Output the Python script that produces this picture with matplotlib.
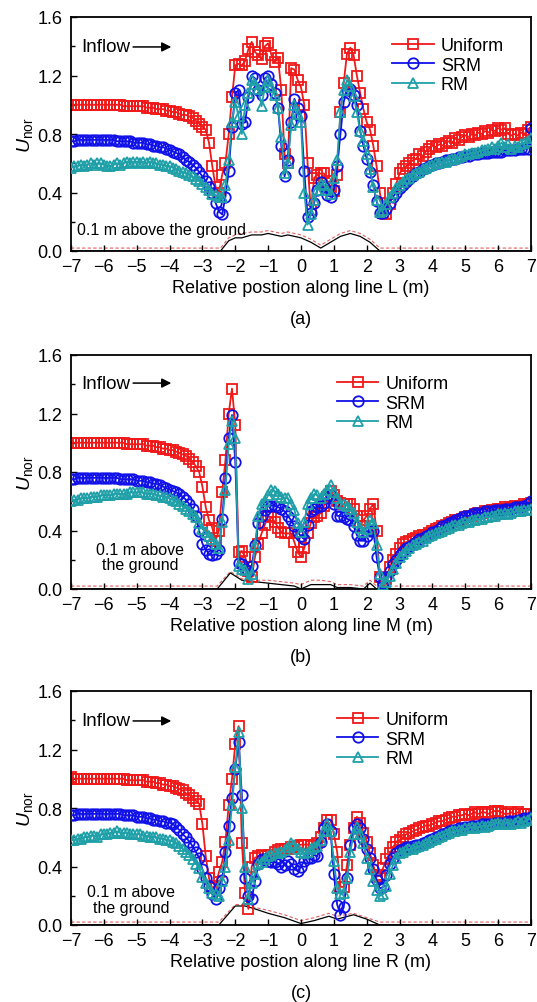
import numpy as np
import matplotlib
matplotlib.use("Agg")
import matplotlib.pyplot as plt
from matplotlib.ticker import MultipleLocator, FormatStrFormatter

plt.rcParams['font.family'] = ['Liberation Sans', 'DejaVu Sans']
plt.rcParams['mathtext.fontset'] = 'custom'
plt.rcParams['mathtext.rm'] = 'Liberation Sans'
plt.rcParams['mathtext.it'] = 'Liberation Sans:italic'

# positions along the line, 0.1 m spacing
x = np.linspace(-7, 7, 141)

# ---- panel (a), line L ----
uni_a = [1.00, 1.00, 1.00, 1.00, 1.00, 1.00, 1.00, 1.00, 1.00, 1.00,
         1.00, 1.00, 1.00, 1.00, 1.00, 1.00, 0.99, 0.99, 0.99, 0.99,
         0.99, 0.99, 0.99, 0.98, 0.98, 0.98, 0.97, 0.97, 0.97, 0.96,
         0.96, 0.95, 0.95, 0.94, 0.93, 0.93, 0.92, 0.91, 0.89, 0.87,
         0.85, 0.83, 0.74, 0.58, 0.44, 0.40, 0.52, 0.60, 0.80, 1.05,
         1.27, 1.28, 1.27, 1.30, 1.38, 1.43, 1.36, 1.34, 1.31, 1.40,
         1.42, 1.34, 1.29, 1.32, 1.10, 0.66, 0.60, 1.25, 1.24, 1.17,
         1.12, 1.00, 0.60, 0.28, 0.50, 0.52, 0.53, 0.53, 0.48, 0.44,
         0.41, 0.52, 0.95, 1.15, 1.35, 1.39, 1.34, 1.20, 1.08, 0.97,
         0.88, 0.83, 0.72, 0.58, 0.40, 0.26, 0.25, 0.32, 0.40, 0.46,
         0.53, 0.56, 0.58, 0.60, 0.62, 0.63, 0.66, 0.65, 0.68, 0.70,
         0.72, 0.71, 0.73, 0.72, 0.74, 0.75, 0.74, 0.77, 0.76, 0.78,
         0.79, 0.78, 0.80, 0.79, 0.81, 0.80, 0.82, 0.81, 0.83, 0.82,
         0.84, 0.83, 0.84, 0.80, 0.79, 0.80, 0.79, 0.81, 0.80, 0.83,
         0.85]
srm_a = [0.75, 0.75, 0.76, 0.76, 0.76, 0.76, 0.76, 0.76, 0.76, 0.76,
         0.76, 0.76, 0.76, 0.76, 0.75, 0.75, 0.75, 0.75, 0.75, 0.74,
         0.74, 0.74, 0.74, 0.73, 0.73, 0.72, 0.72, 0.71, 0.71, 0.70,
         0.69, 0.68, 0.67, 0.66, 0.64, 0.62, 0.61, 0.59, 0.57, 0.54,
         0.51, 0.48, 0.44, 0.40, 0.33, 0.27, 0.25, 0.37, 0.55, 0.85,
         1.08, 1.10, 0.87, 0.88, 1.05, 1.20, 1.18, 1.10, 1.07, 1.18,
         1.20, 1.14, 1.08, 0.98, 0.72, 0.51, 0.62, 0.88, 1.04, 0.98,
         0.92, 0.55, 0.23, 0.26, 0.33, 0.42, 0.47, 0.44, 0.38, 0.37,
         0.42, 0.58, 0.80, 1.02, 1.10, 1.11, 1.07, 1.00, 0.82, 0.72,
         0.63, 0.54, 0.45, 0.34, 0.26, 0.26, 0.29, 0.33, 0.37, 0.40,
         0.43, 0.45, 0.47, 0.49, 0.51, 0.53, 0.54, 0.56, 0.57, 0.58,
         0.59, 0.60, 0.60, 0.61, 0.62, 0.62, 0.63, 0.63, 0.64, 0.64,
         0.65, 0.65, 0.66, 0.66, 0.66, 0.67, 0.67, 0.67, 0.68, 0.68,
         0.68, 0.68, 0.69, 0.69, 0.69, 0.69, 0.70, 0.70, 0.70, 0.70,
         0.84]
rm_a = [0.57, 0.58, 0.58, 0.59, 0.58, 0.59, 0.60, 0.59, 0.60, 0.60,
        0.59, 0.58, 0.58, 0.59, 0.60, 0.59, 0.60, 0.61, 0.60, 0.61,
        0.61, 0.60, 0.61, 0.60, 0.61, 0.60, 0.60, 0.59, 0.59, 0.58,
        0.58, 0.57, 0.56, 0.55, 0.54, 0.53, 0.52, 0.51, 0.49, 0.48,
        0.46, 0.44, 0.42, 0.39, 0.38, 0.37, 0.37, 0.45, 0.62, 0.88,
        1.02, 0.92, 0.80, 1.00, 1.08, 1.17, 1.14, 1.11, 0.99, 1.12,
        1.17, 1.12, 1.07, 0.98, 0.78, 0.53, 0.60, 0.86, 1.00, 0.94,
        0.88, 0.40, 0.18, 0.25, 0.35, 0.42, 0.46, 0.45, 0.42, 0.39,
        0.50, 0.62, 0.95, 1.10, 1.17, 1.13, 1.06, 0.95, 0.82, 0.75,
        0.66, 0.56, 0.44, 0.35, 0.27, 0.28, 0.32, 0.37, 0.40, 0.43,
        0.45, 0.47, 0.49, 0.50, 0.52, 0.53, 0.54, 0.56, 0.57, 0.58,
        0.59, 0.60, 0.60, 0.61, 0.61, 0.62, 0.63, 0.63, 0.64, 0.65,
        0.66, 0.66, 0.67, 0.67, 0.68, 0.69, 0.69, 0.70, 0.71, 0.70,
        0.72, 0.74, 0.71, 0.73, 0.70, 0.72, 0.71, 0.73, 0.74, 0.75,
        0.77]
ground_x_a = [-7, -2.45, -2.2, -2.0, -1.8, -1.5, -1.2, -1.0, -0.8, -0.6, -0.4,
              -0.2, 0.0, 0.3, 0.6, 0.9, 1.2, 1.5, 1.8, 2.1, 2.4, 7]
ground_a = [0, 0, 0.07, 0.09, 0.09, 0.11, 0.11, 0.12, 0.11, 0.10, 0.11,
            0.10, 0.09, 0.06, 0.02, 0.06, 0.10, 0.12, 0.10, 0.06, 0.0, 0.0]
above_a = [0.02, 0.02, 0.09, 0.11, 0.12, 0.13, 0.13, 0.14, 0.13, 0.12, 0.13,
           0.12, 0.11, 0.08, 0.04, 0.08, 0.12, 0.14, 0.12, 0.08, 0.02, 0.02]

# ---- panel (b), line M ----
uni_b = [1.00, 1.00, 1.00, 1.00, 1.00, 1.00, 1.00, 1.00, 1.00, 1.00,
         1.00, 1.00, 1.00, 1.00, 1.00, 1.00, 1.00, 0.99, 0.99, 0.99,
         0.99, 0.99, 0.99, 0.98, 0.98, 0.98, 0.97, 0.97, 0.96, 0.96,
         0.95, 0.95, 0.94, 0.93, 0.92, 0.91, 0.89, 0.87, 0.84, 0.80,
         0.70, 0.56, 0.47, 0.42, 0.33, 0.40, 0.66, 0.88, 1.20, 1.37,
         1.12, 0.25, 0.26, 0.22, 0.12, 0.08, 0.22, 0.31, 0.38, 0.44,
         0.50, 0.49, 0.46, 0.42, 0.39, 0.38, 0.38, 0.38, 0.32, 0.25,
         0.22, 0.28, 0.38, 0.45, 0.49, 0.50, 0.52, 0.57, 0.63, 0.67,
         0.64, 0.60, 0.59, 0.58, 0.58, 0.58, 0.55, 0.50, 0.43, 0.47,
         0.50, 0.55, 0.58, 0.40, 0.08, 0.01, 0.07, 0.15, 0.20, 0.24,
         0.28, 0.31, 0.32, 0.33, 0.34, 0.35, 0.36, 0.37, 0.37, 0.38,
         0.40, 0.41, 0.42, 0.43, 0.44, 0.45, 0.46, 0.47, 0.47, 0.48,
         0.49, 0.50, 0.50, 0.51, 0.52, 0.52, 0.53, 0.53, 0.54, 0.54,
         0.55, 0.55, 0.56, 0.55, 0.56, 0.57, 0.56, 0.57, 0.58, 0.58,
         0.59]
srm_b = [0.75, 0.75, 0.76, 0.76, 0.76, 0.76, 0.76, 0.76, 0.76, 0.76,
         0.76, 0.76, 0.76, 0.76, 0.76, 0.75, 0.75, 0.75, 0.75, 0.75,
         0.74, 0.74, 0.74, 0.73, 0.73, 0.72, 0.72, 0.71, 0.70, 0.69,
         0.68, 0.67, 0.66, 0.65, 0.63, 0.61, 0.58, 0.55, 0.50, 0.40,
         0.31, 0.27, 0.24, 0.23, 0.24, 0.27, 0.48, 0.76, 1.03, 1.19,
         0.87, 0.18, 0.17, 0.14, 0.12, 0.16, 0.30, 0.45, 0.50, 0.54,
         0.57, 0.57, 0.57, 0.56, 0.55, 0.53, 0.50, 0.47, 0.43, 0.39,
         0.36, 0.34, 0.44, 0.53, 0.55, 0.56, 0.57, 0.59, 0.62, 0.64,
         0.58, 0.50, 0.50, 0.49, 0.48, 0.47, 0.43, 0.37, 0.33, 0.33,
         0.36, 0.40, 0.40, 0.22, 0.08, 0.04, 0.08, 0.12, 0.17, 0.20,
         0.23, 0.26, 0.28, 0.29, 0.31, 0.32, 0.34, 0.35, 0.36, 0.37,
         0.39, 0.40, 0.41, 0.43, 0.44, 0.45, 0.46, 0.47, 0.48, 0.49,
         0.50, 0.50, 0.51, 0.52, 0.52, 0.52, 0.53, 0.53, 0.53, 0.54,
         0.54, 0.54, 0.55, 0.55, 0.55, 0.56, 0.56, 0.56, 0.57, 0.58,
         0.60]
rm_b = [0.60, 0.61, 0.61, 0.62, 0.62, 0.62, 0.63, 0.63, 0.63, 0.64,
        0.64, 0.64, 0.64, 0.65, 0.65, 0.65, 0.65, 0.65, 0.66, 0.66,
        0.66, 0.66, 0.66, 0.65, 0.65, 0.65, 0.64, 0.64, 0.63, 0.63,
        0.62, 0.61, 0.60, 0.58, 0.57, 0.55, 0.53, 0.51, 0.49, 0.45,
        0.41, 0.39, 0.36, 0.34, 0.31, 0.28, 0.46, 0.68, 0.99, 1.15,
        1.03, 0.16, 0.14, 0.13, 0.07, 0.10, 0.30, 0.50, 0.58, 0.60,
        0.64, 0.68, 0.67, 0.65, 0.63, 0.62, 0.62, 0.58, 0.54, 0.45,
        0.39, 0.46, 0.58, 0.62, 0.65, 0.64, 0.62, 0.65, 0.68, 0.71,
        0.66, 0.62, 0.59, 0.58, 0.57, 0.55, 0.52, 0.46, 0.42, 0.39,
        0.41, 0.47, 0.45, 0.30, 0.10, 0.03, 0.05, 0.09, 0.14, 0.18,
        0.22, 0.24, 0.26, 0.28, 0.30, 0.31, 0.32, 0.33, 0.35, 0.36,
        0.37, 0.38, 0.39, 0.40, 0.41, 0.42, 0.43, 0.44, 0.44, 0.45,
        0.46, 0.46, 0.47, 0.47, 0.48, 0.48, 0.49, 0.49, 0.50, 0.50,
        0.51, 0.51, 0.52, 0.51, 0.52, 0.53, 0.53, 0.53, 0.54, 0.54,
        0.55]
ground_x_b = [-7, -2.55, -2.15, -1.8, -1.4, -1.0, -0.6, -0.2, 0.0, 0.3, 0.6,
              0.9, 1.1, 1.5, 1.9, 2.1, 2.3, 7]
ground_b = [0, 0, 0.11, 0.06, 0.05, 0.04, 0.03, 0.02, 0.0, 0.03, 0.03,
            0.03, 0.01, 0.01, 0.0, 0.04, 0.0, 0]
above_b = [0.02, 0.02, 0.12, 0.07, 0.06, 0.06, 0.05, 0.04, 0.03, 0.06, 0.06,
           0.05, 0.03, 0.03, 0.02, 0.06, 0.02, 0.02]

# ---- panel (c), line R ----
uni_c = [1.01, 1.00, 1.00, 1.00, 1.00, 1.00, 1.00, 1.00, 1.00, 1.00,
         1.00, 1.00, 1.00, 1.00, 1.00, 1.00, 1.00, 0.99, 0.99, 0.99,
         0.99, 0.99, 0.99, 0.98, 0.98, 0.98, 0.97, 0.97, 0.96, 0.96,
         0.95, 0.95, 0.94, 0.93, 0.92, 0.90, 0.89, 0.87, 0.85, 0.83,
         0.69, 0.47, 0.32, 0.25, 0.27, 0.36, 0.43, 0.57, 0.82, 1.00,
         1.24, 1.36, 0.56, 0.22, 0.11, 0.40, 0.46, 0.47, 0.48, 0.47,
         0.47, 0.48, 0.50, 0.51, 0.52, 0.52, 0.52, 0.53, 0.53, 0.54,
         0.55, 0.55, 0.55, 0.54, 0.55, 0.56, 0.60, 0.66, 0.72, 0.72,
         0.62, 0.50, 0.26, 0.26, 0.41, 0.55, 0.66, 0.74, 0.70, 0.63,
         0.57, 0.49, 0.41, 0.33, 0.34, 0.39, 0.45, 0.49, 0.53, 0.57,
         0.58, 0.60, 0.62, 0.63, 0.64, 0.65, 0.66, 0.67, 0.68, 0.68,
         0.69, 0.70, 0.71, 0.71, 0.72, 0.73, 0.74, 0.74, 0.75, 0.75,
         0.76, 0.75, 0.76, 0.77, 0.76, 0.77, 0.77, 0.76, 0.77, 0.78,
         0.78, 0.77, 0.76, 0.76, 0.77, 0.76, 0.77, 0.76, 0.76, 0.76,
         0.76]
srm_c = [0.75, 0.75, 0.76, 0.76, 0.76, 0.76, 0.76, 0.76, 0.76, 0.76,
         0.76, 0.76, 0.76, 0.76, 0.76, 0.76, 0.75, 0.75, 0.75, 0.75,
         0.74, 0.74, 0.74, 0.73, 0.73, 0.72, 0.72, 0.71, 0.71, 0.70,
         0.70, 0.69, 0.67, 0.65, 0.62, 0.60, 0.57, 0.54, 0.50, 0.46,
         0.38, 0.32, 0.27, 0.21, 0.18, 0.25, 0.31, 0.50, 0.68, 0.87,
         1.07, 1.25, 0.89, 0.32, 0.20, 0.18, 0.30, 0.42, 0.45, 0.45,
         0.44, 0.43, 0.43, 0.42, 0.40, 0.41, 0.44, 0.42, 0.38, 0.37,
         0.40, 0.44, 0.46, 0.46, 0.48, 0.47, 0.57, 0.66, 0.69, 0.64,
         0.35, 0.14, 0.07, 0.12, 0.32, 0.55, 0.66, 0.69, 0.66, 0.59,
         0.52, 0.46, 0.38, 0.31, 0.25, 0.26, 0.34, 0.42, 0.46, 0.49,
         0.51, 0.52, 0.53, 0.53, 0.54, 0.55, 0.55, 0.56, 0.57, 0.58,
         0.59, 0.60, 0.61, 0.62, 0.63, 0.64, 0.65, 0.65, 0.66, 0.66,
         0.67, 0.67, 0.68, 0.68, 0.68, 0.69, 0.69, 0.69, 0.69, 0.70,
         0.70, 0.70, 0.70, 0.71, 0.71, 0.71, 0.72, 0.72, 0.73, 0.73,
         0.74]
rm_c = [0.58, 0.58, 0.59, 0.59, 0.60, 0.60, 0.61, 0.61, 0.60, 0.62,
        0.62, 0.62, 0.63, 0.63, 0.64, 0.63, 0.63, 0.63, 0.62, 0.62,
        0.62, 0.62, 0.61, 0.61, 0.60, 0.60, 0.60, 0.59, 0.59, 0.58,
        0.58, 0.57, 0.56, 0.54, 0.52, 0.50, 0.48, 0.45, 0.42, 0.39,
        0.33, 0.29, 0.25, 0.22, 0.21, 0.20, 0.30, 0.40, 0.58, 0.82,
        1.08, 1.32, 0.80, 0.40, 0.18, 0.29, 0.35, 0.42, 0.43, 0.45,
        0.47, 0.48, 0.49, 0.49, 0.50, 0.51, 0.53, 0.56, 0.55, 0.52,
        0.50, 0.49, 0.50, 0.52, 0.53, 0.54, 0.58, 0.64, 0.69, 0.64,
        0.44, 0.25, 0.21, 0.22, 0.32, 0.50, 0.62, 0.67, 0.62, 0.56,
        0.46, 0.38, 0.30, 0.24, 0.20, 0.21, 0.27, 0.35, 0.41, 0.46,
        0.49, 0.50, 0.51, 0.52, 0.52, 0.53, 0.54, 0.55, 0.56, 0.57,
        0.58, 0.59, 0.60, 0.61, 0.62, 0.63, 0.64, 0.64, 0.65, 0.65,
        0.66, 0.66, 0.67, 0.66, 0.67, 0.68, 0.67, 0.68, 0.69, 0.69,
        0.70, 0.69, 0.70, 0.69, 0.69, 0.70, 0.71, 0.70, 0.71, 0.72,
        0.73]
ground_x_c = [-7, -2.5, -2.0, -1.7, -1.4, -1.0, -0.5, 0.0, 0.4, 0.85, 1.1,
              1.6, 2.0, 2.4, 7]
ground_c = [0, 0, 0.13, 0.13, 0.11, 0.08, 0.05, 0.01, 0.03, 0.06, 0.04,
            0.07, 0.04, 0.0, 0.0]
above_c = [0.02, 0.02, 0.14, 0.14, 0.12, 0.10, 0.07, 0.03, 0.05, 0.08, 0.06,
           0.08, 0.05, 0.02, 0.02]

line_names = ['L', 'M', 'R']
panel_tags = ['(a)', '(b)', '(c)']

RED = '#f01818'
BLUE = '#1010e8'
TEAL = '#1fa0a8'

fig = plt.figure(figsize=(5.37, 10.03), dpi=100)
W, H = 537.0, 1003.0
# axes boxes in pixels: left, top, right, bottom
boxes = [(71, 18, 531, 252), (71, 356, 531, 590), (71, 692, 531, 926)]

panels = [
    (uni_a, srm_a, rm_a, ground_x_a, ground_a, above_a),
    (uni_b, srm_b, rm_b, ground_x_b, ground_b, above_b),
    (uni_c, srm_c, rm_c, ground_x_c, ground_c, above_c),
]

for i, (uni, srm, rm, gx, g, ab) in enumerate(panels):
    l, t, r, b = boxes[i]
    ax = fig.add_axes([l / W, 1 - b / H, (r - l) / W, (b - t) / H])

    ax.plot(gx, ab, color='#e06060', lw=0.8, ls=(0, (3, 2)), zorder=1)
    ax.plot(gx, g, color='black', lw=0.9, zorder=1)

    kw = dict(lw=1.3, ms=7.5, mfc='none', mew=1.3)
    ax.plot(x, uni, '-s', color=RED, label='Uniform', zorder=2, **kw)
    ax.plot(x, srm, '-o', color=BLUE, label='SRM', zorder=3, **kw)
    ax.plot(x, rm, '-^', color=TEAL, label='RM', zorder=4, **kw)

    ax.set_xlim(-7, 7)
    ax.set_ylim(0, 1.6)
    ax.xaxis.set_major_locator(MultipleLocator(1))
    ax.yaxis.set_major_locator(MultipleLocator(0.4))
    ax.yaxis.set_minor_locator(MultipleLocator(0.2))
    ax.yaxis.set_major_formatter(FormatStrFormatter('%.1f'))
    ax.tick_params(which='both', direction='in', labelsize=13, width=1.0)
    ax.tick_params(which='major', length=4)
    ax.tick_params(which='minor', length=3)
    ax.tick_params(axis='y', which='major', pad=6)
    ax.tick_params(axis='x', which='major', pad=5)
    for s in ax.spines.values():
        s.set_linewidth(1.3)

    ax.set_xlabel('Relative postion along line %s (m)' % line_names[i], fontsize=13, labelpad=3)
    ax.set_ylabel(r'$U_{\mathrm{nor}}$', fontsize=14, labelpad=2)
    ax.text(0.5, -0.29, panel_tags[i], transform=ax.transAxes, ha='center', va='center', fontsize=13)

    yi = 0.872 if i != 1 else 0.88
    ax.annotate('', xy=(0.218, yi), xytext=(0.135, yi), xycoords='axes fraction',
                arrowprops=dict(arrowstyle='-|>', color='black', lw=1.1,
                                mutation_scale=14, shrinkA=0, shrinkB=0))
    ax.text(0.022, yi, 'Inflow', transform=ax.transAxes,
            ha='left', va='center', fontsize=13.5)

    if i == 0:
        ax.text(0.012, 0.094, '0.1 m above the ground', transform=ax.transAxes,
                ha='left', va='center', fontsize=11.5)
        leg_x = 0.69
    else:
        ax.text(0.15 if i == 1 else 0.13, 0.137 if i == 1 else 0.11,
                '0.1 m above\nthe ground', transform=ax.transAxes,
                ha='center', va='center', fontsize=11.5, linespacing=1.05)
        leg_x = 0.57
    ax.legend(loc='upper left', bbox_to_anchor=(leg_x, 0.93), frameon=False,
              fontsize=13, handlelength=2.3, handletextpad=0.4, labelspacing=0.15,
              borderpad=0.2, borderaxespad=0.0)

fig.savefig('out.png', dpi=100)
